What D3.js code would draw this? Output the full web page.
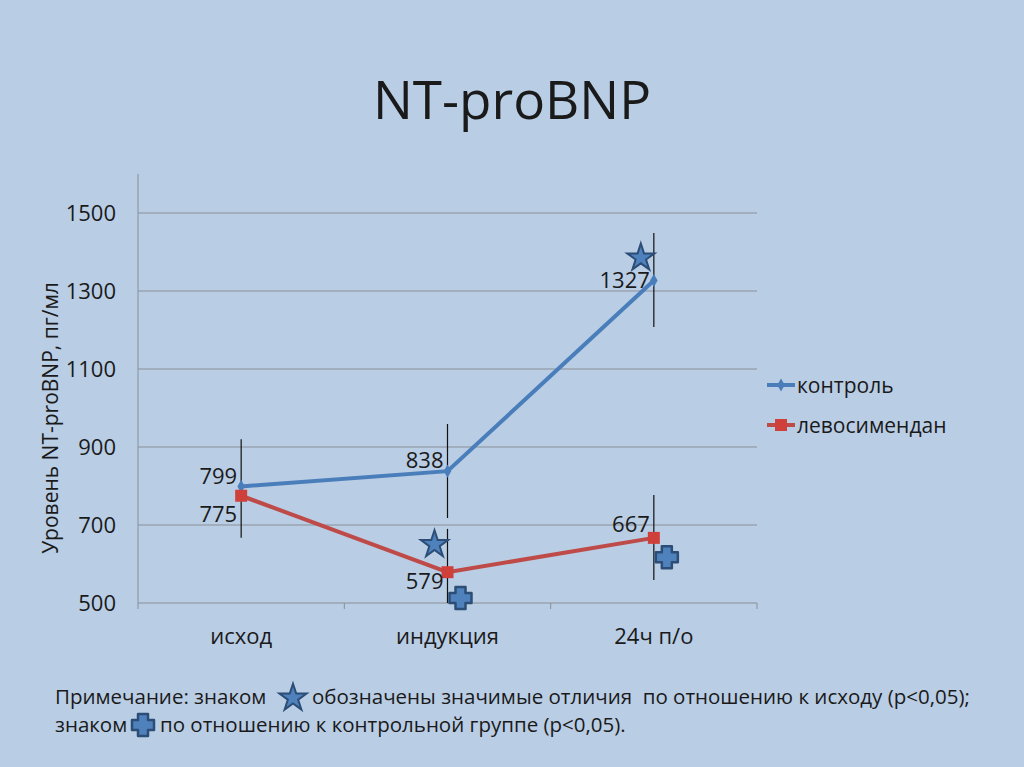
<!DOCTYPE html><html><head><meta charset="utf-8"><script src="https://cdn.jsdelivr.net/npm/d3@7"></script>
<style>body{margin:0;background:#b9cde5;font-family:"Open Sans",sans-serif}</style></head><body><svg id="c" width="1024" height="767"></svg><script>
const categories=["исход","индукция","24ч п/о"];
const control=[799,838,1327];
const levo=[775,579,667];
const controlErr=[[667,920],[718,959],[1208,1449]];
const levoErr=[[null,null],[500,690],[559,777]];
const yTicks=[500,700,900,1100,1300,1500];
const starMarks=[[1,650],[2,1385]];
const plusMarks=[[1,513],[2,617]];
const svg=d3.select("#c");
svg.append("rect").attr("width",1024).attr("height",767).attr("fill","#b9cde5");
const x=d3.scaleBand().domain(categories).range([138,757]);
const cx=c=>x(c)+x.bandwidth()/2;
const y=d3.scaleLinear().domain([500,1600]).range([603,174]);
svg.append("text").attr("x",512).attr("y",119).attr("text-anchor","middle").attr("font-size",53).attr("fill","#1a1a1a").text("NT-proBNP");
svg.selectAll(".g").data(yTicks).join("line").attr("x1",138).attr("x2",757).attr("y1",d=>y(d)).attr("y2",d=>y(d)).attr("stroke","#8a8f96").attr("stroke-width",1);
svg.append("line").attr("x1",138).attr("x2",138).attr("y1",174).attr("y2",603).attr("stroke","#8a8f96");
svg.selectAll(".yt").data(yTicks).join("text").attr("x",116).attr("y",d=>y(d)+8).attr("text-anchor","end").attr("font-size",22).attr("fill","#1a1a1a").text(d=>d);
svg.selectAll(".xt").data([0,1,2,3]).join("line").attr("x1",d=>138+d*x.bandwidth()).attr("x2",d=>138+d*x.bandwidth()).attr("y1",603).attr("y2",609).attr("stroke","#8a8f96");
svg.selectAll(".xl").data(categories).join("text").attr("x",d=>cx(d)).attr("y",644).attr("text-anchor","middle").attr("font-size",22).attr("fill","#1a1a1a").text(d=>d);
svg.append("text").attr("transform","translate(58,418) rotate(-90)").attr("text-anchor","middle").attr("font-size",21).attr("fill","#1a1a1a").text("Уровень NT-proBNP, пг/мл");
const err=(arr)=>arr.forEach((e,i)=>{if(e[0]==null)return;svg.append("line").attr("x1",cx(categories[i])).attr("x2",cx(categories[i])).attr("y1",y(e[0])).attr("y2",y(e[1])).attr("stroke","#111").attr("stroke-width",1.2);});
err(controlErr);err(levoErr);
const line=d3.line().x((d,i)=>cx(categories[i])).y(d=>y(d));
svg.append("path").attr("d",line(control)).attr("fill","none").attr("stroke","#4a7ebb").attr("stroke-width",4);
svg.append("path").attr("d",line(levo)).attr("fill","none").attr("stroke","#be4b48").attr("stroke-width",4);
svg.selectAll(".cm").data(control).join("path").attr("transform",(d,i)=>`translate(${cx(categories[i])},${y(d)})`).attr("d",d3.symbol(d3.symbolDiamond,50)).attr("fill","#4a7ebb");
svg.selectAll(".lm").data(levo).join("rect").attr("x",(d,i)=>cx(categories[i])-6).attr("y",d=>y(d)-6).attr("width",12).attr("height",12).attr("fill","#d0403a");
const lab=(arr,dy)=>arr.forEach((v,i)=>svg.append("text").attr("x",cx(categories[i])-4).attr("y",y(v)+dy[i]).attr("text-anchor","end").attr("font-size",22).attr("fill","#1a1a1a").text(v));
lab(control,[-2,-3,8]);lab(levo,[26,17,-6]);
const star=d3.symbol(d3.symbolStar,230);
const drawStar=(px,py)=>svg.append("path").attr("transform",`translate(${px},${py})`).attr("d",star()).attr("fill","#4f81bd").attr("stroke","#2c4d75").attr("stroke-width",2);
const crossP="M-5,-11H5V-5H11V5H5V11H-5V5H-11V-5H-5Z";
const drawPlus=(px,py)=>svg.append("path").attr("transform",`translate(${px},${py})`).attr("d",crossP).attr("fill","#4f81bd").attr("stroke","#2c4d75").attr("stroke-width",2.5).attr("stroke-linejoin","round");
starMarks.forEach(([c,v])=>drawStar(cx(categories[c])-13,y(v)));
plusMarks.forEach(([c,v])=>drawPlus(cx(categories[c])+13,y(v)));
svg.append("line").attr("x1",767).attr("x2",795).attr("y1",385).attr("y2",385).attr("stroke","#4a7ebb").attr("stroke-width",4);
svg.append("path").attr("transform","translate(781,385)").attr("d",d3.symbol(d3.symbolDiamond,50)).attr("fill","#4a7ebb");
svg.append("text").attr("x",797).attr("y",393).attr("font-size",21).attr("fill","#1a1a1a").text("контроль");
svg.append("line").attr("x1",767).attr("x2",795).attr("y1",425).attr("y2",425).attr("stroke","#be4b48").attr("stroke-width",4);
svg.append("rect").attr("x",775).attr("y",419).attr("width",12).attr("height",12).attr("fill","#d0403a");
svg.append("text").attr("x",797).attr("y",433).attr("font-size",21).attr("fill","#1a1a1a").text("левосимендан");
svg.append("text").attr("x",55).attr("y",704).attr("font-size",20.5).attr("fill","#1a1a1a").text("Примечание: знаком");
drawStar(293,698);
svg.append("text").attr("x",312).attr("y",704).attr("font-size",20.5).attr("fill","#1a1a1a").attr("xml:space","preserve").text("обозначены значимые отличия  по отношению к исходу (р<0,05);");
svg.append("text").attr("x",55).attr("y",732).attr("font-size",20.5).attr("fill","#1a1a1a").text("знаком");
drawPlus(143,725);
svg.append("text").attr("x",160).attr("y",732).attr("font-size",20.5).attr("fill","#1a1a1a").text("по отношению к контрольной группе (р<0,05).");
</script></body></html>
